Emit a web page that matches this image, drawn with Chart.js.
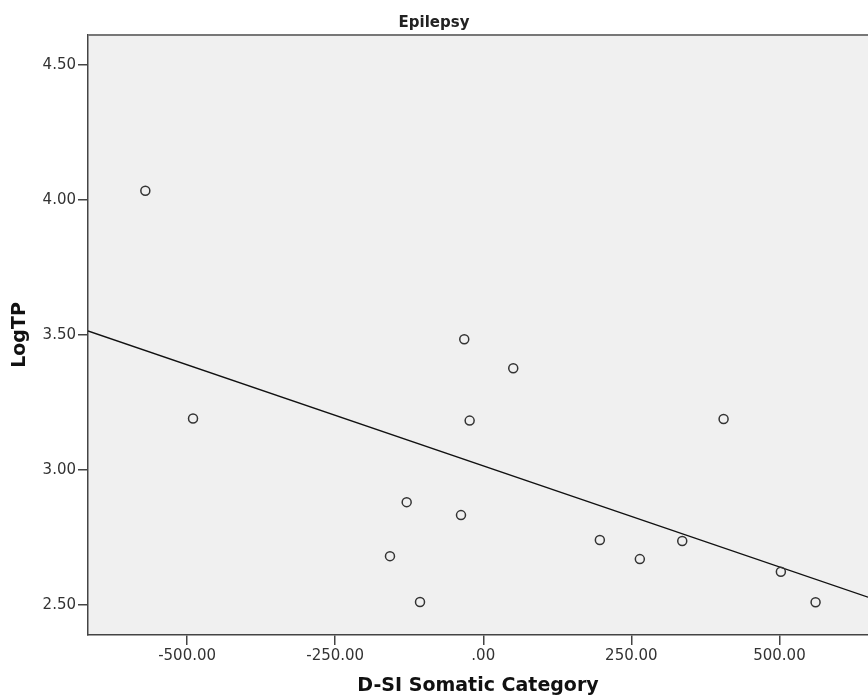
<!DOCTYPE html>
<html>
<head>
<meta charset="utf-8">
<title>Epilepsy</title>
<script src="https://cdn.jsdelivr.net/npm/chart.js@4/dist/chart.umd.min.js"></script>
<style>
  body { margin: 0; background: #fff; }
  #wrap { width: 868px; height: 700px; }
</style>
</head>
<body>
<div id="wrap"><canvas id="myChart" width="868" height="700"></canvas></div>
<script>
'use strict';

// values
let dsiSomatic = [-570.5, -490, -32.1, 50.6, -23.0, -129.3, -37.6, -157.5, -106.8, 196.8, 264.3, 335.9, 405.7, 502.4, 561.0];
let logTP = [4.034, 3.191, 3.484, 3.377, 3.183, 2.881, 2.833, 2.681, 2.511, 2.741, 2.670, 2.737, 3.189, 2.623, 2.510];

// fit line ends (at the plot edges)
let fitX = [-667.3, 649.5];
let fitY = [3.515, 2.529];

let xTicks = [-500, -250, 0, 250, 500];
let xTickLabels = ['-500.00', '-250.00', '.00', '250.00', '500.00'];
let yTicks = [2.5, 3.0, 3.5, 4.0, 4.5];
let yTickLabels = ['2.50', '3.00', '3.50', '4.00', '4.50'];

Chart.defaults.font.family = '"DejaVu Sans", sans-serif';
Chart.defaults.color = '#333';

let points = dsiSomatic.map((x, i) => ({ x: x, y: logTP[i] }));
let fitLine = fitX.map((x, i) => ({ x: x, y: fitY[i] }));

// grey plot background + top frame line
const plotFrame = {
  id: 'plotFrame',
  beforeDraw(chart) {
    const a = chart.chartArea;
    const c = chart.ctx;
    c.save();
    c.fillStyle = '#f0f0f0';
    c.fillRect(a.left, a.top, a.right - a.left, a.bottom - a.top);
    c.restore();
  },
  afterDraw(chart) {
    const a = chart.chartArea;
    const c = chart.ctx;
    c.save();
    c.strokeStyle = '#777';
    c.lineWidth = 2;
    c.beginPath();
    c.moveTo(a.left, a.top);
    c.lineTo(a.right, a.top);
    c.stroke();
    c.restore();
  }
};

const ctx = document.getElementById('myChart').getContext('2d');

const myChart = new Chart(ctx, {
  type: 'scatter',
  data: {
    datasets: [{
      label: 'LogTP',
      data: points,
      pointStyle: 'circle',
      pointRadius: 4.5,
      pointHoverRadius: 4.5,
      pointBorderWidth: 1.5,
      borderColor: '#333',
      backgroundColor: 'rgba(0,0,0,0)'
    },
    {
      label: 'Fit',
      type: 'line',
      data: fitLine,
      borderColor: '#111',
      borderWidth: 1.3,
      pointRadius: 0,
      fill: false
    }]
  },
  options: {
    responsive: false,
    animation: false,
    layout: { padding: 0, autoPadding: false },
    plugins: {
      legend: { display: false },
      tooltip: { enabled: false },
      title: {
        display: true,
        text: 'Epilepsy',
        color: '#222',
        font: { size: 15, weight: 'bold' },
        padding: { top: 14, bottom: 3 }
      }
    },
    scales: {
      x: {
        type: 'linear',
        min: fitX[0],
        max: fitX[1],
        afterBuildTicks: (scale) => { scale.ticks = xTicks.map(v => ({ value: v })); },
        afterFit: (scale) => { scale.height = 65; },
        grid: { drawOnChartArea: false, drawTicks: true, tickLength: 10, color: '#444', lineWidth: 1.5 },
        border: { display: true, color: '#444', width: 1.5 },
        ticks: {
          autoSkip: false,
          maxRotation: 0,
          padding: 2,
          font: { size: 15 },
          color: '#333',
          callback: (v) => xTickLabels[xTicks.indexOf(v)]
        },
        title: {
          display: true,
          text: 'D-SI Somatic Category',
          color: '#111',
          font: { size: 19, weight: 'bold' },
          padding: { top: 0, bottom: 3 }
        }
      },
      y: {
        type: 'linear',
        min: 2.389,
        max: 4.611,
        afterBuildTicks: (scale) => { scale.ticks = yTicks.map(v => ({ value: v })); },
        afterFit: (scale) => { scale.width = 88; },
        grid: { drawOnChartArea: false, drawTicks: true, tickLength: 10, color: '#444', lineWidth: 1.5 },
        border: { display: true, color: '#444', width: 1.5 },
        ticks: {
          autoSkip: false,
          padding: 2,
          font: { size: 15 },
          color: '#333',
          callback: (v) => yTickLabels[yTicks.indexOf(v)]
        },
        title: {
          display: true,
          text: 'LogTP',
          color: '#111',
          font: { size: 19, weight: 'bold' },
          padding: { top: 9, bottom: 0 }
        }
      }
    }
  },
  plugins: [plotFrame]
});
</script>
</body>
</html>
